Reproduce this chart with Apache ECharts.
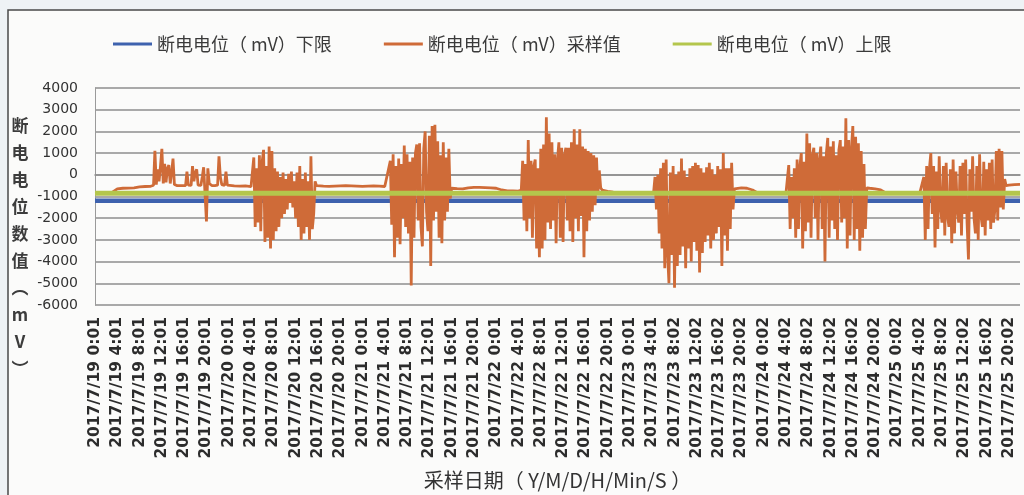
<!DOCTYPE html>
<html>
<head>
<meta charset="utf-8">
<script src="https://cdn.jsdelivr.net/npm/echarts@6/dist/echarts.min.js"></script>
<style>
  html, body { margin: 0; padding: 0; background: #eef2f5; }
  #chart { width: 1024px; height: 495px; }
</style>
</head>
<body>
<div id="chart"></div>
<script>
// Axis tick labels, one every 4 hours from 2017/7/19 0:01
const tickLabels = [
  '2017/7/19 0:01', '2017/7/19 4:01', '2017/7/19 8:01', '2017/7/19 12:01', '2017/7/19 16:01', '2017/7/19 20:01',
  '2017/7/20 0:01', '2017/7/20 4:01', '2017/7/20 8:01', '2017/7/20 12:01', '2017/7/20 16:01', '2017/7/20 20:01',
  '2017/7/21 0:01', '2017/7/21 4:01', '2017/7/21 8:01', '2017/7/21 12:01', '2017/7/21 16:01', '2017/7/21 20:01',
  '2017/7/22 0:01', '2017/7/22 4:01', '2017/7/22 8:01', '2017/7/22 12:01', '2017/7/22 16:01', '2017/7/22 20:01',
  '2017/7/23 0:01', '2017/7/23 4:01', '2017/7/23 8:02', '2017/7/23 12:02', '2017/7/23 16:02', '2017/7/23 20:02',
  '2017/7/24 0:02', '2017/7/24 4:02', '2017/7/24 8:02', '2017/7/24 12:02', '2017/7/24 16:02', '2017/7/24 20:02',
  '2017/7/25 0:02', '2017/7/25 4:02', '2017/7/25 8:02', '2017/7/25 12:02', '2017/7/25 16:02', '2017/7/25 20:02'
];
const TICK_HOURS = 4;
const LAST_HOUR = 166;

// Protection limits (mV)
const limitHours = [0, LAST_HOUR];
const lowerLimitValues = [-1200, -1200];
const upperLimitValues = [-850, -850];

// Sampled off-potential (mV). Night segments hourly, daytime segments every 15 min.
const night0 = [-860, -850, -840, -820, -650, -620, -610, -600, -560, -540, -530];
const day19 = [-480, 1100, -450, 250, -300, 400, 1200, -400, 500, -350, 300, 450, -400, 100, 750, -450,
  -480, -500, -490, -500, -510, -500, -490, -500, 150, -480, -500, -490, 400, -300, 100, 250,
  -480, -500, -490, -100, 350, 400, -2150, 300, -400, -480, -500, -490, -500, -510, -480, 850,
  -100, -450, -500, -490, 150, -480, -500];
const night1 = [-510, -520, -510, -540];
const day20 = [-600, 800, -2400, 300, -2200, 900, -2600, 600, 1150, -3100, 400, -2900, 1300, -3400, 1100, -3000,
  300, -2600, 150, -2400, -100, -2000, 100, -1800, -200, -1600, 50, -1300, 150, -1500, -300, -2000,
  100, -2400, 400, -3000, -200, -2700, 100, -2400, -300, -3000, 850, -2500, -1800, -300, -500, -520];
const night2 = [-520, -530, -520, -510, -500, -510, -520, -530, -520, -510, -520, -540];
const day21 = [650, -2300, 950, -3800, 400, -2900, 750, -3200, 500, -2000, 1350, -2400, 950, -2700, 600, -5100,
  800, -2900, 1000, 1400, -2100, 1450, -2400, -3300, 1200, 2000, -1700, -2600, 1800, -4200, 2250, -2100,
  2300, -1700, 1550, -2900, 900, -3150, 1500, -2100, 800, -1700, 1200, -1100];
const night3 = [-620, -640, -650, -600, -580, -580, -590, -600, -620, -700, -740, -740, -750];
const day22 = [-700, 650, -2100, 500, -2600, 1600, -2000, 650, -2900, 400, 700, -3400, 300, -3800, 1200, -3400,
  1400, -3000, 2650, -2200, 1900, -2500, 1500, -2100, 950, -3150, 700, 1500, -2900, 1250, -3100, 900,
  1250, -2100, 1250, -2600, 1500, -3100, 2100, -2000, 1400, -2600, 2100, -1900, 1300, -3800, 1200, -2600,
  1100, -2100, 1000, -1700, 900, -1400, 800, -900, 200, -600];
const night4 = [-700, -760, -800, -820, -840, -850, -850, -860, -850];
const day23 = [-800, -100, -1600, 0, -2700, 300, -3400, 550, -4300, 700, -3600, -5000, 100, -3700, 400, -5200,
  0, -4200, 150, -3700, 750, -3300, 200, -4300, -100, -3400, 300, -4000, 400, -3100, 550, -3500,
  450, -4500, 300, -3600, 100, -3100, 350, -2800, 550, -3400, 250, -3000, 0, -2700, 400, -2400,
  250, -4200, 1000, -2800, 300, -3500, 300, -2500, 550, -1600, -650];
const night5 = [-650, -600, -620, -700, -850, -870, -860, -850, -860, -840];
const day24 = [-800, 450, -2500, -100, -2000, 300, -2900, 700, -2500, 400, 1000, -3400, 600, -2600, 1900, -2200,
  1450, -2900, 900, 1250, -2000, 1000, -3000, 700, 1300, -2500, 850, -4000, 1000, 1700, -2900, 1300,
  -2100, 1550, -2500, 900, -3000, 1150, 1600, -2200, 1300, -2000, 2600, -3400, 1600, -2800, 1200, 2250,
  -3000, 1750, -2500, 1450, -3500, 1100, -2900, 500, -2500, -600];
const night6 = [-620, -650, -700, -850, -860, -850, -860, -850, -860, -850];
const day25 = [-100, -3000, 400, -2500, 300, 1000, -1800, 400, -3350, 150, -2500, 850, -1500, -2200, 400, -2800,
  550, -1900, -2400, 250, -3150, 700, -2700, 150, -1600, -2200, 400, -2800, 550, -1800, 700, -2200,
  -3900, 250, -1700, 850, -2000, -2700, 400, -3000, 950, -1900, -2400, 600, -2800, 250, -2100, 550,
  -2500, 700, -2200, -1600, 1100, -2100, 1200, -1500, 1100, -1600, -200, -500];
const night7 = [-480, -450, -440];

// Each segment: first sample time (hours after 7/19 0:01) and sampling step (hours)
const segments = [
  { start: 0, step: 1, values: night0 },
  { start: 10.5, step: 0.25, values: day19 },
  { start: 25, step: 1, values: night1 },
  { start: 28.25, step: 0.25, values: day20 },
  { start: 41, step: 1, values: night2 },
  { start: 53, step: 0.25, values: day21 },
  { start: 64, step: 1, values: night3 },
  { start: 76.5, step: 0.25, values: day22 },
  { start: 91, step: 1, values: night4 },
  { start: 100.25, step: 0.25, values: day23 },
  { start: 115, step: 1, values: night5 },
  { start: 124.25, step: 0.25, values: day24 },
  { start: 139, step: 1, values: night6 },
  { start: 148.75, step: 0.25, values: day25 },
  { start: 164, step: 1, values: night7 }
];

const sampled = [];
segments.forEach(seg => {
  seg.values.forEach((v, i) => sampled.push([seg.start + i * seg.step, v]));
});
const lowerData = limitHours.map((h, i) => [h, lowerLimitValues[i]]);
const upperData = limitHours.map((h, i) => [h, upperLimitValues[i]]);

const NAME_LOWER = '断电电位（ mV）下限';
const NAME_SAMPLE = '断电电位（ mV）采样值';
const NAME_UPPER = '断电电位（ mV）上限';

const chart = echarts.init(document.getElementById('chart'), null, { renderer: 'canvas' });
chart.setOption({
  animation: false,
  backgroundColor: '#eef2f5',
  graphic: [
    {
      type: 'rect', z: -10, silent: true,
      shape: { x: 8, y: 10, width: 1040, height: 520 },
      style: { fill: '#fbfbfa', stroke: '#4a4a4a', lineWidth: 1.5 }
    },
    {
      type: 'text', x: 20, y: 112,
      style: {
        text: '断\n电\n电\n位\n数\n值\n︵\nm\nV\n︶',
        fontSize: 17, fontWeight: 'bold', fontFamily: 'Noto Sans CJK SC',
        lineHeight: 27, fill: '#3c3c3c', align: 'center', verticalAlign: 'top'
      }
    }
  ],
  legend: {
    left: 108, top: 30,
    itemWidth: 39, itemHeight: 14, itemGap: 52,
    icon: 'path://M0,6 L40,6 L40,9 L0,9 Z',
    textStyle: { fontSize: 18, color: '#3a3a3a', fontFamily: 'Noto Sans CJK SC' },
    data: [NAME_LOWER, NAME_SAMPLE, NAME_UPPER]
  },
  grid: { left: 95, right: 4, top: 88, bottom: 190 },
  xAxis: {
    type: 'value', min: 0, max: LAST_HOUR, interval: TICK_HOURS,
    name: '采样日期（ Y/M/D/H/Min/S ）',
    nameLocation: 'middle', nameGap: 165,
    nameTextStyle: { fontSize: 20, color: '#333', fontFamily: 'Noto Sans CJK SC' },
    axisLine: { show: true, lineStyle: { color: '#8e8e8e', width: 1.6 } },
    axisTick: { show: false },
    splitLine: { show: false },
    axisLabel: {
      rotate: 90, margin: 12, fontSize: 15.5, fontWeight: 'bold', color: '#2c2c2c',
      fontFamily: 'DejaVu Sans', showMaxLabel: false,
      formatter: v => {
        const k = Math.round(v / TICK_HOURS);
        return Math.abs(v / TICK_HOURS - k) < 1e-6 && tickLabels[k] ? tickLabels[k] : '';
      }
    }
  },
  yAxis: {
    type: 'value', min: -6000, max: 4000, interval: 1000,
    axisLine: { show: true, lineStyle: { color: '#9a9a9a', width: 1 } },
    axisTick: { show: false },
    axisLabel: {
      margin: 17, fontSize: 14, color: '#333', fontFamily: 'DejaVu Sans',
      formatter: v => String(v)
    },
    splitLine: { show: true, lineStyle: { color: '#8e8e8e', width: 1.6 } }
  },
  series: [
    {
      name: NAME_LOWER, type: 'line', data: lowerData, symbol: 'none',
      color: '#3e62ae', lineStyle: { width: 4.5, color: '#3e62ae' }, z: 2
    },
    {
      name: NAME_SAMPLE, type: 'line', data: sampled, symbol: 'none',
      color: '#cf6b38', lineStyle: { width: 2.8, color: '#cf6b38' }, z: 3
    },
    {
      name: NAME_UPPER, type: 'line', data: upperData, symbol: 'none',
      color: '#b4c64c', lineStyle: { width: 5, color: '#b4c64c' }, z: 4
    }
  ]
});
</script>
</body>
</html>
